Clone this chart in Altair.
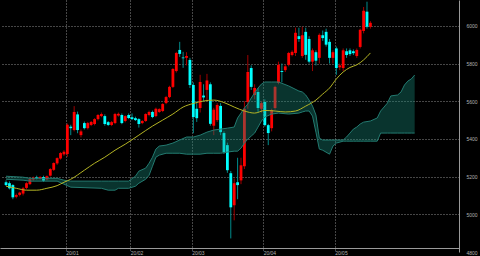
import altair as alt
import pandas as pd

# ---- candle data (trading-day index, Dec 2019 .. May 2020) ----
idx = list(range(3, 111))
opens = [5170, 5165, 5155, 5093, 5103, 5110, 5140, 5160, 5185, 5196, 5190, 5198, 5185, 5205, 5236, 5270, 5296, 5318,
         5320, 5465, 5447, 5530, 5420, 5484, 5457, 5474, 5479, 5505, 5521, 5521, 5489, 5474, 5484, 5524, 5527, 5495,
         5527, 5515, 5510, 5505, 5484, 5495, 5527, 5543, 5521, 5543, 5548, 5590, 5622, 5676, 5760, 5872, 5832, 5830,
         5819, 5686, 5560, 5564, 5630, 5660, 5690, 5470, 5500, 5575, 5431, 5367, 5218, 5048, 5170, 5180, 5255, 5596,
         5776, 5633, 5649, 5560, 5596, 5473, 5457, 5564, 5697, 5760, 5765, 5793, 5845, 5856, 5945, 5840, 5968, 5930,
         5810, 5860, 5830, 5950, 5968, 5915, 5830, 5880, 5780, 5776, 5865, 5870, 5865, 5840, 5888, 5973, 6075, 5995]
highs = [5180, 5175, 5160, 5110, 5120, 5145, 5170, 5192, 5200, 5205, 5203, 5205, 5206, 5245, 5276, 5302, 5330, 5340,
         5482, 5475, 5574, 5545, 5450, 5492, 5490, 5495, 5510, 5532, 5540, 5530, 5495, 5495, 5538, 5540, 5535, 5525,
         5535, 5535, 5518, 5510, 5500, 5536, 5550, 5550, 5566, 5563, 5590, 5628, 5682, 5776, 5862, 5915, 5862, 5860,
         5830, 5700, 5600, 5740, 5690, 5745, 5700, 5565, 5590, 5590, 5440, 5380, 5230, 5190, 5300, 5300, 5600, 5845,
         5790, 5690, 5670, 5600, 5610, 5480, 5560, 5682, 5810, 5800, 5795, 5862, 5870, 5990, 5990, 5995, 5990, 5945,
         5880, 5870, 5960, 5975, 5985, 5930, 5870, 5890, 5800, 5880, 5880, 5880, 5875, 5880, 5985, 6100, 6128, 6025]
lows = [5150, 5132, 5080, 5085, 5095, 5100, 5132, 5155, 5178, 5185, 5184, 5172, 5180, 5200, 5230, 5262, 5290, 5310,
        5305, 5420, 5440, 5430, 5408, 5450, 5450, 5468, 5472, 5498, 5515, 5470, 5468, 5468, 5478, 5518, 5478, 5488,
        5505, 5500, 5495, 5460, 5478, 5490, 5520, 5510, 5515, 5538, 5542, 5584, 5616, 5670, 5752, 5835, 5777, 5790,
        5670, 5430, 5490, 5540, 5600, 5600, 5470, 5420, 5490, 5420, 5320, 5220, 4872, 4968, 5080, 5160, 5240, 5560,
        5660, 5610, 5540, 5540, 5465, 5367, 5440, 5555, 5690, 5700, 5755, 5785, 5838, 5840, 5915, 5830, 5820, 5800,
        5760, 5790, 5800, 5920, 5890, 5800, 5800, 5740, 5765, 5760, 5830, 5840, 5845, 5830, 5880, 5960, 5985, 5985]
closes = [5155, 5138, 5090, 5102, 5115, 5138, 5165, 5186, 5195, 5190, 5198, 5178, 5202, 5240, 5272, 5298, 5325, 5332,
          5475, 5457, 5543, 5447, 5440, 5457, 5484, 5490, 5505, 5527, 5532, 5479, 5474, 5489, 5532, 5533, 5484, 5521,
          5511, 5505, 5500, 5479, 5495, 5532, 5543, 5516, 5560, 5558, 5585, 5622, 5676, 5771, 5856, 5851, 5828, 5840,
          5686, 5516, 5510, 5702, 5620, 5710, 5480, 5555, 5580, 5436, 5330, 5234, 5037, 5165, 5155, 5260, 5560, 5755,
          5676, 5670, 5564, 5590, 5473, 5431, 5553, 5676, 5793, 5755, 5785, 5856, 5862, 5963, 5930, 5950, 5846, 5810,
          5870, 5815, 5952, 5935, 5900, 5830, 5860, 5776, 5790, 5870, 5845, 5850, 5855, 5872, 5979, 6080, 5995, 6016]

# ---- moving average (read at selected bars) ----
ma_idx = [3, 6, 9, 12, 15, 18, 20, 22, 26, 29, 32, 35, 38, 42, 46, 49, 52, 55, 58, 61, 64, 67, 70, 73, 76, 79,
          82, 85, 88, 91, 94, 96, 98, 100, 102, 104, 106, 108, 110]
ma_val = [5149, 5138, 5128, 5128, 5138, 5152, 5170, 5186, 5234, 5271, 5303, 5340, 5372, 5420, 5468, 5500, 5532,
          5569, 5588, 5601, 5606, 5593, 5569, 5548, 5537, 5551, 5548, 5543, 5548, 5574, 5606, 5638, 5670, 5718,
          5755, 5779, 5793, 5819, 5856]

# ---- ichimoku cloud (span A / span B) ----
cloud_idx = [3, 8, 10, 18, 20, 22, 31, 33, 35, 36, 39, 41, 42, 44, 45, 46, 47, 48, 50, 52, 54, 56, 58, 60, 62, 64,
             66, 68, 70, 71, 72, 73, 74, 75, 76, 77, 78, 79, 81, 83, 86, 89, 90, 91, 92, 93, 94, 95, 96, 98, 99, 100,
             102, 103, 104, 105, 106, 107, 108, 110, 112, 113, 115, 116, 118, 119, 120, 121, 122, 123]
span_a = [5202, 5197, 5191, 5191, 5181, 5176, 5176, 5176, 5176, 5176, 5176, 5202, 5229, 5245, 5271, 5303, 5346,
          5362, 5367, 5378, 5394, 5410, 5410, 5420, 5436, 5447, 5452, 5457, 5463, 5511, 5537, 5564, 5585, 5617,
          5644, 5670, 5691, 5702, 5702, 5702, 5681, 5654, 5649, 5633, 5606, 5574, 5527, 5404, 5394, 5394, 5394,
          5394, 5394, 5410, 5431, 5452, 5463, 5479, 5489, 5495, 5511, 5548, 5590, 5628, 5633, 5649, 5686, 5707,
          5718, 5739]
span_b = [5186, 5181, 5176, 5176, 5160, 5144, 5138, 5128, 5128, 5138, 5138, 5149, 5165, 5186, 5207, 5255, 5303,
          5314, 5324, 5324, 5324, 5319, 5319, 5319, 5324, 5324, 5324, 5330, 5335, 5335, 5351, 5378, 5399, 5415,
          5431, 5463, 5495, 5516, 5532, 5537, 5532, 5537, 5543, 5548, 5548, 5521, 5436, 5346, 5340, 5319, 5362,
          5378, 5388, 5388, 5388, 5388, 5388, 5388, 5388, 5388, 5388, 5431, 5431, 5431, 5431, 5431, 5431, 5431,
          5431, 5431]

# ---- axes ----
y_ticks = [4800, 5000, 5200, 5400, 5600, 5800, 6000]
month_pos = [-0.5, 20.5, 39.5, 57.5, 78.5, 99.5]
month_labels = ["19/12", "20/01", "20/02", "20/03", "20/04", "20/05"]

candles = pd.DataFrame({"i": idx, "o": opens, "h": highs, "l": lows, "c": closes})
ma = pd.DataFrame({"i": ma_idx, "v": ma_val})
cloud = pd.DataFrame({"i": cloud_idx, "a": span_a, "b": span_b})

label_expr = "[" + ",".join(f"'{s}'" for s in month_labels) + "][indexof([" + \
    ",".join(str(p) for p in month_pos) + "], datum.value)]"

xscale = alt.Scale(domain=[2.69, 134.55], nice=False, zero=False)
yscale = alt.Scale(domain=[4800, 6137], nice=False, zero=False)

xaxis = alt.Axis(values=month_pos, labelExpr=label_expr, labelAlign="left", labelBaseline="top",
                 labelPadding=2, labelOverlap=False, labelFlush=False, ticks=False, grid=True,
                 domain=True, offset=-4)
yaxis = alt.Axis(orient="right", values=y_ticks, format="d", labelAlign="left", labelBaseline="middle",
                 labelPadding=7, ticks=False, grid=True, labelOverlap=False, labelFlush=False,
                 gridOpacity={"condition": {"test": "datum.value < 4900", "value": 0}, "value": 1})

def X(f):
    return alt.X(f"{f}:Q", scale=xscale, axis=xaxis, title=None)

def Y(f):
    return alt.Y(f"{f}:Q", scale=yscale, axis=yaxis, title=None)

base = alt.Chart(candles).transform_calculate(
    d="datum.c >= datum.o ? 'up' : 'down'"
)

wicks = base.mark_rule(strokeWidth=1).encode(
    x=X("i"), y=Y("l"), y2="h",
    color=alt.Color("d:N", scale=alt.Scale(domain=["up", "down"], range=["#a00000", "#008c8c"]), legend=None),
)
bodies = base.mark_bar(size=2.8).encode(
    x=X("i"), y=Y("o"), y2="c",
    color=alt.Color("d:N", scale=alt.Scale(domain=["up", "down"], range=["#ff0000", "#00ffff"]), legend=None),
)

cloud_fill = alt.Chart(cloud).mark_area(color="#189080", opacity=0.36).encode(
    x=X("i"), y=Y("a"), y2="b"
)
cloud_a = alt.Chart(cloud).mark_line(color="#237a70", strokeWidth=1).encode(x=X("i"), y=Y("a"))
cloud_b = alt.Chart(cloud).mark_line(color="#237a70", strokeWidth=1).encode(x=X("i"), y=Y("b"))

ma_line = alt.Chart(ma).mark_line(color="#b4b424", strokeWidth=1, interpolate="monotone").encode(
    x=X("i"), y=Y("v")
)

chart = alt.layer(wicks, bodies, cloud_fill, cloud_a, cloud_b, ma_line).resolve_scale(
    color="independent"
).properties(
    width=459, height=252,
    autosize=alt.AutoSizeParams(type="none"),
    padding={"left": 0, "top": 0, "right": 21, "bottom": 4},
    background="#000000",
).configure_view(stroke=None).configure_axis(
    domainColor="#9a9a9a", domainWidth=1,
    labelColor="#b0b0b0", labelFont="Liberation Sans", labelFontSize=5,
    gridColor="#8c8c8c", gridDash=[1, 2], gridWidth=1,
)

chart.save("out.html", embed_options={"renderer": "svg", "actions": False})
